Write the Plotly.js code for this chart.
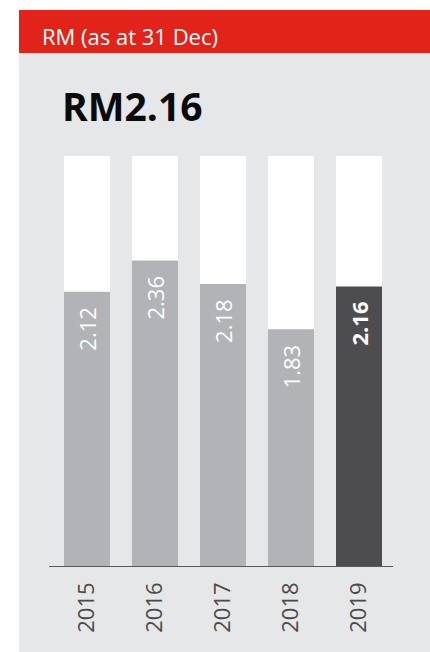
<!DOCTYPE html>
<html>
<head>
<meta charset="utf-8">
<script src="https://cdn.plot.ly/plotly-3.0.1.min.js"></script>
<style>
html,body{margin:0;padding:0;background:#ffffff;}
#wrap{position:relative;width:430px;height:652px;overflow:hidden;}
#panel{position:absolute;left:19px;top:10px;width:411px;height:642px;background:#e6e7e9;}
#chart{position:absolute;left:0;top:0;width:430px;height:652px;}
</style>
</head>
<body>
<div id="wrap"><div id="panel"></div><div id="chart"></div></div>
<script>
// ---- data ----
const years = ["2015", "2016", "2017", "2018", "2019"];
const values = [2.12, 2.36, 2.18, 1.83, 2.16];
const valueLabels = ["2.12", "2.36", "2.18", "1.83", "2.16"];
const highlightYear = "2019";
const headerText = "RM (as at 31 Dec)";
const headlineText = "RM2.16";
const axisTop = 3.165;

// ---- styles ----
const FONT = "Open Sans, Liberation Sans, Arial, sans-serif";
const RED = "#e2231a";
const PANEL = "#e6e7e9";
const GREY_BAR = "#b1b3b6";
const DARK_BAR = "#4d4d4f";
const AXIS = "#58595b";

const W = 430, H = 652;
const M = {l: 53, r: 37, t: 156, b: 85};
const pw = W - M.l - M.r, ph = H - M.t - M.b;
const px = x => (x - M.l) / pw;
const py = y => (H - M.b - y) / ph;

const traces = [
  {
    type: "bar",
    x: years,
    y: years.map(() => axisTop),
    marker: {color: "#ffffff"},
    hoverinfo: "skip",
    showlegend: false
  },
  {
    type: "bar",
    x: years,
    y: values,
    marker: {color: years.map(y => y === highlightYear ? DARK_BAR : GREY_BAR)},
    hoverinfo: "x+y",
    showlegend: false
  }
];

const valueAnnotations = years.map((yr, i) => ({
  x: i, y: values[i], xref: "x", yref: "y",
  text: yr === highlightYear ? "<b>" + valueLabels[i] + "</b>" : valueLabels[i],
  showarrow: false,
  textangle: -90,
  xanchor: "center", yanchor: "top",
  yshift: -13,
  font: {family: FONT, size: 22, color: "#ffffff"}
}));

const layout = {
  width: W, height: H,
  margin: M,
  paper_bgcolor: "rgba(0,0,0,0)",
  plot_bgcolor: "rgba(0,0,0,0)",
  barmode: "overlay",
  bargap: 0.3235,
  showlegend: false,
  font: {family: FONT},
  xaxis: {
    type: "category",
    categoryorder: "array",
    categoryarray: years,
    range: [-0.5, years.length - 0.5],
    autorange: false,
    tickangle: -90,
    ticks: "",
    ticklabelstandoff: 10,
    showgrid: false,
    zeroline: false,
    showline: false,
    tickfont: {family: FONT, size: 22, color: "#4a4a4c"},
    fixedrange: true
  },
  yaxis: {
    range: [0, axisTop],
    autorange: false,
    visible: false,
    showgrid: false,
    zeroline: false,
    fixedrange: true
  },
  shapes: [
    {type: "rect", xref: "paper", yref: "paper", layer: "below",
     x0: px(19), x1: px(431), y0: py(53), y1: py(10),
     fillcolor: RED, line: {width: 0}},
    {type: "line", xref: "paper", yref: "y", layer: "above",
     x0: px(49), x1: 1, y0: 0, y1: 0,
     line: {color: AXIS, width: 2}}
  ],
  annotations: [
    {xref: "paper", yref: "paper", x: px(40), y: py(36),
     xanchor: "left", yanchor: "middle", showarrow: false,
     text: headerText, font: {family: FONT, size: 22, color: "#ffffff"}},
    {xref: "paper", yref: "paper", x: px(60), y: py(105),
     xanchor: "left", yanchor: "middle", showarrow: false,
     text: "<b>" + headlineText + "</b>", font: {family: FONT, size: 39, color: "#0a0a0a"}}
  ].concat(valueAnnotations)
};

Plotly.newPlot("chart", traces, layout, {displayModeBar: false, staticPlot: true});
</script>
</body>
</html>
